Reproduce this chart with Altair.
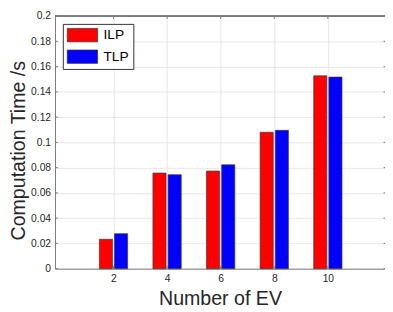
import altair as alt
import pandas as pd

# ---- data ----
ev = [2, 4, 6, 8, 10]
ilp = [0.0233, 0.0757, 0.0773, 0.1080, 0.1527]
tlp = [0.0277, 0.0744, 0.0822, 0.1095, 0.1517]
series = ["ILP", "TLP"]
colors = ["#ff0000", "#0000ff"]
x_ticks = [2, 4, 6, 8, 10]
y_ticks = [0, 0.02, 0.04, 0.06, 0.08, 0.1, 0.12, 0.14, 0.16, 0.18, 0.2]

rows = []
for i, e in enumerate(ev):
    rows.append({"ev": e, "series": "ILP", "time": ilp[i]})
    rows.append({"ev": e, "series": "TLP", "time": tlp[i]})
df = pd.DataFrame(rows)
xt = pd.DataFrame({"xpos": x_ticks})
yt = pd.DataFrame({"time": y_ticks})

W, H = 337, 258
FONT = "Liberation Sans"
AX = "#7a7a7a"
GRID = "#e6e6e6"
TXT = "#262626"

xscale = alt.Scale(domain=[0, 11.95], nice=False, zero=False)
yscale = alt.Scale(domain=[0, 0.2], nice=False)

xaxis = alt.Axis(values=x_ticks, title="Number of EV", grid=True,
                 gridColor=GRID, domainColor=AX, ticks=False,
                 labelPadding=5, labelFontSize=10.5, labelColor=TXT,
                 labelFont=FONT, titleFont=FONT, titleFontSize=20,
                 titleFontWeight="normal", titleColor=TXT,
                 titleX=W / 2, titleY=37,
                 titleBaseline="alphabetic", titleAlign="center")
yaxis = alt.Axis(values=y_ticks, format="~g", title="Computation Time /s",
                 grid=True, gridColor=GRID, domainColor=AX, ticks=False,
                 labelPadding=4.5, labelFontSize=10.5, labelColor=TXT,
                 labelFont=FONT, titleFont=FONT, titleFontSize=20,
                 titleFontWeight="normal", titleColor=TXT,
                 titleX=-31, titleY=137, titleAngle=-90,
                 titleBaseline="alphabetic", titleAlign="center")

bars = alt.Chart(df).transform_calculate(
    xpos="datum.ev + (datum.series == 'ILP' ? -0.283 : 0.283)"
).mark_bar(size=13.4, stroke="#3a3a3a", strokeWidth=0.7).encode(
    x=alt.X("xpos:Q", scale=xscale, axis=xaxis),
    y=alt.Y("time:Q", scale=yscale, axis=yaxis),
    color=alt.Color("series:N", scale=alt.Scale(domain=series, range=colors),
                    legend=alt.Legend(title=None, orient="none", legendX=8, legendY=8,
                                      padding=4, strokeColor="#333333", fillColor="white",
                                      cornerRadius=0,
                                      symbolType="M-2.2,-0.97H2.2V0.97H-2.2Z",
                                      symbolSize=198, symbolOffset=8.5,
                                      symbolStrokeColor="#333333", symbolStrokeWidth=0.7,
                                      labelFont=FONT, labelFontSize=14, labelColor="black",
                                      labelOffset=14, rowPadding=5)),
)

# top frame line
frame_top = alt.Chart(xt).mark_rule(color=AX, strokeWidth=1).encode(
    x=alt.value(0), x2=alt.value(W), y=alt.value(0),
)
top = alt.Chart(xt).mark_rule(color=AX, strokeWidth=1).encode(
    x=alt.X("xpos:Q", scale=xscale, axis=xaxis),
    y=alt.value(0), y2=alt.value(3),
)
bottom = alt.Chart(xt).mark_rule(color=AX, strokeWidth=1).encode(
    x=alt.X("xpos:Q", scale=xscale, axis=xaxis),
    y=alt.value(H), y2=alt.value(H - 3),
)
left = alt.Chart(yt).mark_rule(color=AX, strokeWidth=1).encode(
    y=alt.Y("time:Q", scale=yscale, axis=yaxis),
    x=alt.value(0), x2=alt.value(3),
)
right = alt.Chart(yt).mark_rule(color=AX, strokeWidth=1).encode(
    y=alt.Y("time:Q", scale=yscale, axis=yaxis),
    x=alt.value(W - 1.5), x2=alt.value(W),
)

chart = alt.layer(bars, frame_top, top, bottom, left, right).properties(
    width=W, height=H,
    autosize=alt.AutoSizeParams(type="none"),
    padding={"left": 48, "top": 5, "right": 0, "bottom": 41},
    background="white",
).configure_view(stroke="transparent")

chart.save("out.html", embed_options={"renderer": "svg", "actions": False})
